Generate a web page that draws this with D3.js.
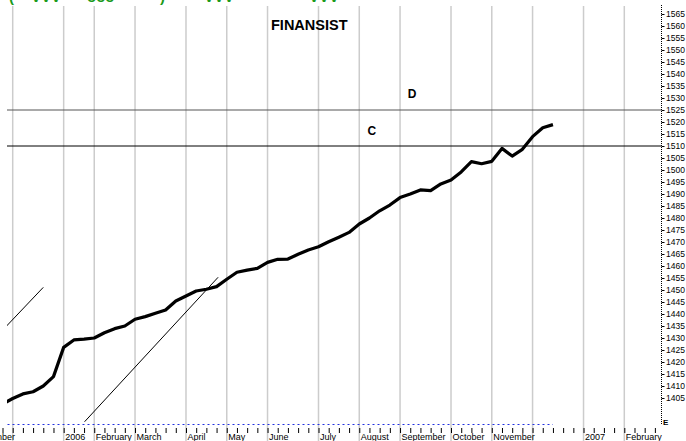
<!DOCTYPE html>
<html>
<head>
<meta charset="utf-8">
<script src="https://cdn.jsdelivr.net/npm/d3@7"></script>
<style>
  body { margin: 0; background: #fff; }
  svg { display: block; font-family: Arial, "Liberation Sans", sans-serif; }
</style>
</head>
<body>
<div id="main"></div>
<script>
var width = 686,
    height = 441;

// weekly closes, first value is the week before December 2005
var firstWeek = -1;
var closeValues = [
  1402.5, 1404.8, 1406.7, 1407.6, 1410.0, 1413.9, 1426.1, 1429.2, 1429.5, 1430.0,
  1432.2, 1433.9, 1435.0, 1437.8, 1438.9, 1440.3, 1441.7, 1445.4, 1447.5, 1449.6,
  1450.3, 1451.4, 1454.5, 1457.4, 1458.3, 1459.0, 1461.5, 1462.8, 1462.9, 1464.9,
  1466.7, 1468.0, 1470.1, 1472.0, 1474.0, 1477.5, 1480.0, 1483.0, 1485.4, 1488.5,
  1490.0, 1491.7, 1491.4, 1494.2, 1495.8, 1499.2, 1503.5, 1502.6, 1503.6, 1509.0,
  1505.8, 1508.6, 1513.9, 1517.6, 1518.9
];

// month labels and the week they start on (december labels are not printed)
var monthLabels = ["November", "", "2006", "February", "March", "April", "May", "June",
                   "July", "August", "September", "October", "November", "", "2007", "February"];
var monthWeeks = [-4, 0, 5, 8, 12, 17, 21, 25, 30, 34, 38, 43, 47, 51, 56, 60];

// horizontal levels
var levelNames = ["D", "C"];
var levelValues = [1525, 1510];

// thin channel lines: [start, end]
var trendWeeks = [[-0.6, 3.0], [7.05, 20.15]];
var trendValues = [[1435.0, 1451.1], [1395.1, 1455.3]];

var yTicks = d3.range(1405, 1566, 5);

var plotLeft = 7, plotRight = 661, plotTop = 6, plotBottom = 425;

var x = d3.scaleLinear().domain([0, 60]).range([12.7, 624.3]);
var y = d3.scaleLinear().domain([1405, 1565]).range([398, 14]);

var svg = d3.select("#main").append("svg")
    .attr("width", width)
    .attr("height", height);

svg.append("rect").attr("width", width).attr("height", height).attr("fill", "#fff");

svg.append("defs").append("clipPath").attr("id", "plot")
  .append("rect")
    .attr("x", plotLeft).attr("y", plotTop)
    .attr("width", plotRight - plotLeft).attr("height", plotBottom - plotTop);

// green header, mostly cut off at the top
var header = svg.append("g").attr("fill", "#1a9a1a").attr("font-size", 15).attr("font-weight", "bold");
[[9, "("], [31, "VVV"], [87, "ooo"], [160, ")"], [204, "VVV"], [309, "VVV"]].forEach(function(h) {
  header.append("text").attr("x", h[0]).attr("y", 2).text(h[1]);
});

// month gridlines
svg.append("g").selectAll("line")
  .data(monthWeeks)
  .enter().append("line")
    .attr("x1", function(d) { return x(d); })
    .attr("x2", function(d) { return x(d); })
    .attr("y1", plotTop)
    .attr("y2", height)
    .attr("stroke", "#cccccc")
    .attr("stroke-width", 1.5);

// week ticks
var xAxis = d3.axisBottom(x)
    .tickValues(d3.range(-1, 64))
    .tickSize(5)
    .tickFormat("");
var gx = svg.append("g")
    .attr("transform", "translate(0," + 428 + ")")
    .call(xAxis);
gx.select(".domain").remove();
gx.selectAll(".tick line").attr("stroke", "#000").attr("stroke-width", 1);

// month labels
svg.append("g").selectAll("text")
  .data(monthLabels)
  .enter().append("text")
    .attr("x", function(d, i) { return x(monthWeeks[i]) + 1.5; })
    .attr("y", 439.5)
    .attr("font-size", 9)
    .attr("fill", "#000")
    .text(function(d) { return d; });

var plot = svg.append("g").attr("clip-path", "url(#plot)");

// levels
plot.selectAll(".level")
  .data(levelValues)
  .enter().append("line")
    .attr("class", "level")
    .attr("x1", plotLeft).attr("x2", plotRight)
    .attr("y1", function(d) { return y(d); })
    .attr("y2", function(d) { return y(d); })
    .attr("stroke", function(d, i) { return i === 0 ? "#555" : "#000"; })
    .attr("stroke-width", 1);

svg.append("text").attr("x", x(38.75)).attr("y", 98)
  .attr("font-size", 12).attr("font-weight", "bold").text(levelNames[0]);
svg.append("text").attr("x", x(34.8)).attr("y", 135)
  .attr("font-size", 12).attr("font-weight", "bold").text(levelNames[1]);

// blue dotted baseline under the data
plot.append("line")
    .attr("x1", x(firstWeek)).attr("x2", x(firstWeek + closeValues.length - 1))
    .attr("y1", plotBottom - 0.5).attr("y2", plotBottom - 0.5)
    .attr("stroke", "#2030e0")
    .attr("stroke-width", 1)
    .attr("stroke-dasharray", "2,3");

// channel lines
plot.selectAll(".trend")
  .data(trendWeeks)
  .enter().append("line")
    .attr("class", "trend")
    .attr("x1", function(d) { return x(d[0]); })
    .attr("x2", function(d) { return x(d[1]); })
    .attr("y1", function(d, i) { return y(trendValues[i][0]); })
    .attr("y2", function(d, i) { return y(trendValues[i][1]); })
    .attr("stroke", "#000")
    .attr("stroke-width", 1);

// weekly close line
var line = d3.line()
    .x(function(d, i) { return x(firstWeek + i); })
    .y(function(d) { return y(d); });

plot.append("path")
    .datum(closeValues)
    .attr("d", line)
    .attr("fill", "none")
    .attr("stroke", "#000")
    .attr("stroke-width", 3.2)
    .attr("stroke-linejoin", "round");

// title
svg.append("text")
    .attr("x", 271).attr("y", 30)
    .attr("font-size", 14.5)
    .attr("font-weight", "bold")
    .text("FINANSIST");

// right axis
svg.append("line")
    .attr("x1", plotRight + 0.5).attr("x2", plotRight + 0.5)
    .attr("y1", 5).attr("y2", 424)
    .attr("stroke", "#000")
    .attr("stroke-dasharray", "1,1");

var yAxis = d3.axisRight(y)
    .tickValues(yTicks)
    .tickSize(3)
    .tickPadding(1.5)
    .tickFormat(d3.format("d"));
var gy = svg.append("g")
    .attr("transform", "translate(" + (plotRight + 0.5) + ",0)")
    .call(yAxis);
gy.select(".domain").remove();
gy.selectAll(".tick line").attr("stroke", "#000");
gy.selectAll(".tick text")
    .attr("font-size", 8.5)
    .attr("font-family", "Arial, 'Liberation Sans', sans-serif")
    .attr("fill", "#000");

svg.append("text")
    .attr("x", plotRight + 2).attr("y", 425)
    .attr("font-size", 8)
    .attr("font-weight", "bold")
    .text("E");
</script>
</body>
</html>
